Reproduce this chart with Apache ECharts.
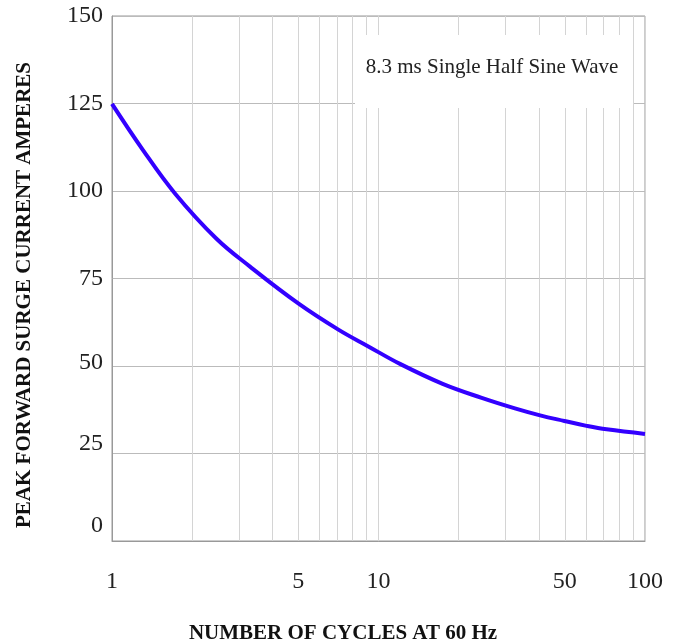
<!DOCTYPE html>
<html><head><meta charset="utf-8">
<script src="https://cdn.jsdelivr.net/npm/echarts@6/dist/echarts.min.js"></script>
<style>html,body{margin:0;padding:0;background:#fff}#c{width:686px;height:643px}</style>
</head><body><div id="c"></div>
<script>
const cycles = [1, 1.307, 1.723, 2.456, 3.295, 5.0, 7.07, 9.16, 12.04, 17.41, 24.39, 32.5, 40.4, 49.8, 60.4, 71.8, 100];
const amperes = [124.9, 111.7, 99.3, 86.5, 78.4, 67.9, 60.4, 55.6, 50.6, 44.9, 40.9, 37.9, 35.9, 34.3, 32.9, 31.9, 30.6];
const xGridValues = [1,2,3,4,5,6,7,8,9,10,20,30,40,50,60,70,80,90,100];
const xTickLabels = [1, 5, 10, 50, 100];
const yTicks = [0, 25, 50, 75, 100, 125, 150];
const xTitle = 'NUMBER OF CYCLES AT 60 Hz';
const yTitle = 'PEAK FORWARD SURGE CURRENT AMPERES';
const note = '8.3 ms Single Half Sine Wave';

const serif = '"Liberation Serif", "Times New Roman", serif';
const labelStyle = { fontFamily: serif, fontSize: 24, color: '#222' };
const chart = echarts.init(document.getElementById('c'));
chart.setOption({
  animation: false,
  backgroundColor: '#fff',
  grid: { left: 112, right: 41, top: 16, bottom: 102, show: true, borderColor: '#999', borderWidth: 1, backgroundColor: 'transparent' },
  title: { text: xTitle, left: 'center', top: 618, textStyle: { fontFamily: serif, fontWeight: 'bold', fontSize: 21, color: '#111' } },
  xAxis: {
    type: 'log', logBase: 10, min: 1, max: 100,
    axisLine: { show: true, lineStyle: { color: '#999', width: 1 } },
    axisTick: { show: false, customValues: xGridValues },
    axisLabel: Object.assign({ customValues: xTickLabels, margin: 29 }, labelStyle),
    splitLine: { show: true, lineStyle: { color: '#d4d4d4', width: 1 } },
    minorTick: { show: false }, minorSplitLine: { show: false }
  },
  yAxis: {
    type: 'value', min: yTicks[0], max: yTicks[yTicks.length - 1], interval: 25,
    axisLine: { show: true, lineStyle: { color: '#999', width: 1 } },
    axisTick: { show: false },
    axisLabel: Object.assign({
      margin: 9,
      formatter: function (v) {
        if (v === 0) return '{s15|0}';
        if (v === 25) return '{s10|25}';
        if (v === 50) return '{s3|50}';
        return String(v);
      },
      rich: {
        s15: Object.assign({ padding: [0, 0, 30, 0] }, labelStyle),
        s10: Object.assign({ padding: [0, 0, 19, 0] }, labelStyle),
        s3: Object.assign({ padding: [0, 0, 6, 0] }, labelStyle)
      }
    }, labelStyle),
    splitLine: { show: true, lineStyle: { color: '#bbb', width: 1 } }
  },
  graphic: [
    { type: 'rect', z: 100, shape: { x: 355, y: 35, width: 278, height: 73 }, style: { fill: '#fff' } },
    { type: 'text', z: 101, x: 492, y: 67, style: { text: note, font: '21px ' + serif, fill: '#222', textAlign: 'center', textVerticalAlign: 'middle' } },
    { type: 'text', z: 101, x: 25, y: 295, rotation: Math.PI / 2, style: { text: yTitle, font: 'bold 21px ' + serif, fill: '#111', textAlign: 'center', textVerticalAlign: 'middle' } }
  ],
  series: [{
    type: 'line', data: cycles.map((c, i) => [c, amperes[i]]), smooth: 0.4, symbol: 'none',
    lineStyle: { color: '#3300ff', width: 4 }, z: 10
  }]
});
</script></body></html>
